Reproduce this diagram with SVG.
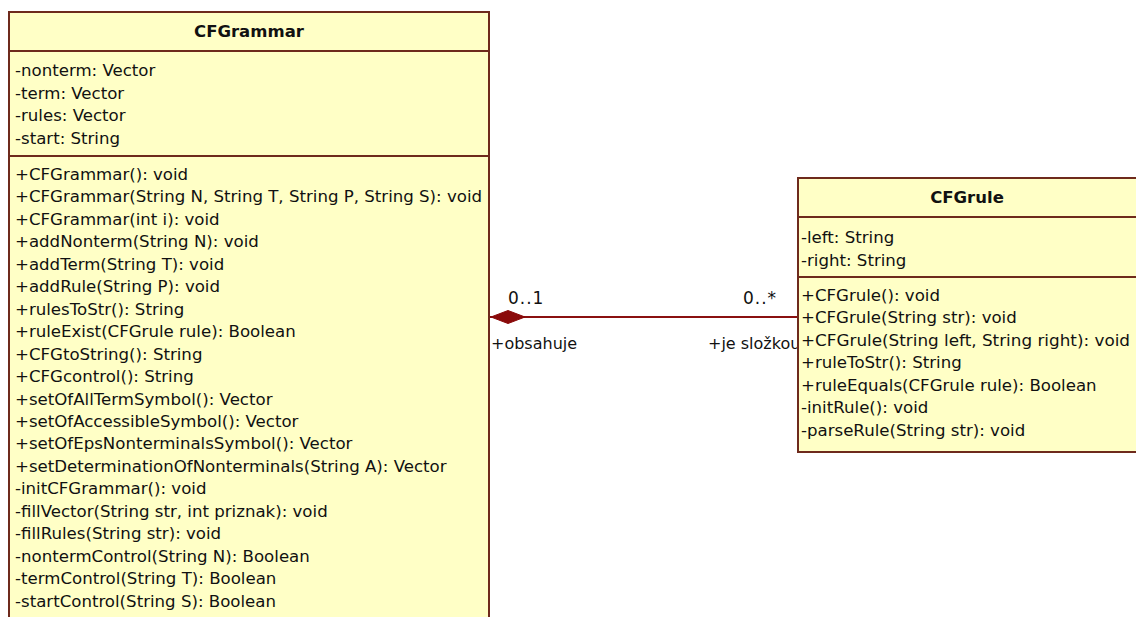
<svg xmlns="http://www.w3.org/2000/svg" width="1136" height="617" viewBox="0 0 1136 617">
  <style>
    .box { fill: #FFFFC6; stroke: #6E2A1C; stroke-width: 2; }
    .sep { stroke: #6E2A1C; stroke-width: 2; }
    text { font-family: "DejaVu Sans", "Liberation Sans", sans-serif; font-size: 16.6px; fill: #111; }
    .title { font-weight: bold; text-anchor: middle; font-size: 16.5px; }
    .lbl { font-size: 16px; }
    .mult { font-size: 17px; letter-spacing: 1px; }
    .assoc { stroke: #8A1010; stroke-width: 2; fill: none; }
    .diamond { fill: #8A0A0A; stroke: #8A0A0A; stroke-width: 1; }
  </style>
  <rect width="1136" height="617" fill="#FFFFFF"/>

  <!-- association: CFGrammar (composite) to CFGrule -->
  <g id="connectors">
    <line class="assoc" x1="490" y1="317" x2="798" y2="317"/>
    <polygon class="diamond" points="491,317 508,310.5 525,317 508,323.5"/>
    <text class="mult" x="508" y="304">0..1</text>
    <text class="mult" x="743" y="304">0..*</text>
    <text class="lbl" x="491" y="349">+obsahuje</text>
    <text class="lbl" x="708" y="349">+je složkou</text>
  </g>

  <!-- class CFGrammar -->
  <g id="CFGrammar">
    <rect class="box" x="9" y="12" width="480" height="620"/>
    <line class="sep" x1="9" y1="51" x2="489" y2="51"/>
    <line class="sep" x1="9" y1="156" x2="489" y2="156"/>
    <text class="title" x="249" y="37">CFGrammar</text>
    <text x="15" y="76">-nonterm: Vector</text>
    <text x="15" y="98.5">-term: Vector</text>
    <text x="15" y="121">-rules: Vector</text>
    <text x="15" y="143.5">-start: String</text>
    <text x="15" y="180">+CFGrammar(): void</text>
    <text x="15" y="202.4">+CFGrammar(String N, String T, String P, String S): void</text>
    <text x="15" y="224.9">+CFGrammar(int i): void</text>
    <text x="15" y="247.3">+addNonterm(String N): void</text>
    <text x="15" y="269.8">+addTerm(String T): void</text>
    <text x="15" y="292.2">+addRule(String P): void</text>
    <text x="15" y="314.7">+rulesToStr(): String</text>
    <text x="15" y="337.1">+ruleExist(CFGrule rule): Boolean</text>
    <text x="15" y="359.6">+CFGtoString(): String</text>
    <text x="15" y="382">+CFGcontrol(): String</text>
    <text x="15" y="404.5">+setOfAllTermSymbol(): Vector</text>
    <text x="15" y="426.9">+setOfAccessibleSymbol(): Vector</text>
    <text x="15" y="449.4">+setOfEpsNonterminalsSymbol(): Vector</text>
    <text x="15" y="471.8">+setDeterminationOfNonterminals(String A): Vector</text>
    <text x="15" y="494.3">-initCFGrammar(): void</text>
    <text x="15" y="516.7">-fillVector(String str, int priznak): void</text>
    <text x="15" y="539.2">-fillRules(String str): void</text>
    <text x="15" y="561.6">-nontermControl(String N): Boolean</text>
    <text x="15" y="584.1">-termControl(String T): Boolean</text>
    <text x="15" y="606.5">-startControl(String S): Boolean</text>
  </g>

  <!-- class CFGrule -->
  <g id="CFGrule">
    <rect class="box" x="798" y="178" width="345" height="274"/>
    <line class="sep" x1="798" y1="217" x2="1143" y2="217"/>
    <line class="sep" x1="798" y1="277" x2="1143" y2="277"/>
    <text class="title" x="967" y="203">CFGrule</text>
    <text x="801" y="243">-left: String</text>
    <text x="801" y="265.5">-right: String</text>
    <text x="801" y="301">+CFGrule(): void</text>
    <text x="801" y="323.4">+CFGrule(String str): void</text>
    <text x="801" y="345.9" textLength="329" lengthAdjust="spacingAndGlyphs">+CFGrule(String left, String right): void</text>
    <text x="801" y="368.3">+ruleToStr(): String</text>
    <text x="801" y="390.8">+ruleEquals(CFGrule rule): Boolean</text>
    <text x="801" y="413.2">-initRule(): void</text>
    <text x="801" y="435.7">-parseRule(String str): void</text>
  </g>
</svg>
